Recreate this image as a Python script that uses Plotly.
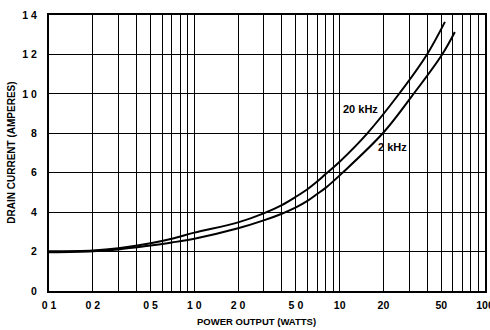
import plotly.graph_objects as go

# 20 kHz curve
x_20khz = [0.1, 0.2, 0.3, 0.5, 0.7, 1.0, 2.0, 3.0, 4.0, 5.0, 6.0, 7.0, 8.0, 10.0, 15.5, 25.2, 39.9, 53]
y_20khz = [2.02, 2.06, 2.17, 2.42, 2.65, 2.96, 3.48, 3.94, 4.36, 4.78, 5.16, 5.55, 5.93, 6.56, 8.0, 9.93, 12.0, 13.65]

# 2 kHz curve
x_2khz = [0.1, 0.2, 0.3, 0.5, 0.7, 1.0, 2.0, 3.0, 4.0, 5.0, 6.0, 7.0, 8.0, 10.4, 19.8, 31.5, 50.7, 62]
y_2khz = [1.97, 2.02, 2.11, 2.31, 2.46, 2.65, 3.18, 3.58, 3.92, 4.24, 4.57, 4.92, 5.23, 5.98, 8.0, 9.9, 12.0, 13.14]

x_labels = {0.1: "0 1", 0.2: "0 2", 0.5: "0 5", 1: "1 0", 2: "2 0", 5: "5 0",
            10: "10", 20: "20", 50: "50", 100: "100"}
y_ticks = [0, 2, 4, 6, 8, 10, 12, 14]
y_ticktext = ["0", "2", "4", "6", "8", "1 0", "1 2", "1 4"]

x_grid = []
for dec in [0.1, 1, 10]:
    for m in range(1, 10):
        x_grid.append(round(m * dec, 6))
x_grid.append(100)
x_ticktext = []
for v in x_grid:
    key = None
    for k in x_labels:
        if abs(k - v) < 1e-9:
            key = k
    x_ticktext.append(x_labels[key] if key is not None else "")

FONT = "Liberation Sans, Arial, Helvetica, sans-serif"

fig = go.Figure()
fig.add_trace(go.Scatter(x=x_20khz, y=y_20khz, mode="lines",
                         line=dict(color="black", width=2, shape="spline", smoothing=1.0),
                         showlegend=False))
fig.add_trace(go.Scatter(x=x_2khz, y=y_2khz, mode="lines",
                         line=dict(color="black", width=2, shape="spline", smoothing=1.0),
                         showlegend=False))

fig.add_annotation(x=1.278, y=9.25, xref="x", yref="y", text="20 kHz", showarrow=False,
                   xanchor="right", yanchor="middle",
                   font=dict(family=FONT, size=11, color="black", weight="bold"))
fig.add_annotation(x=1.25, y=7.3, xref="x", yref="y", text="2 kHz", showarrow=False,
                   xanchor="left", yanchor="middle",
                   font=dict(family=FONT, size=11, color="black", weight="bold"))

fig.add_annotation(x=0.475, y=-0.112, xref="paper", yref="paper", text="POWER OUTPUT (WATTS)",
                   showarrow=False, xanchor="center", yanchor="middle",
                   font=dict(family=FONT, size=9.5, color="black", weight="bold"))
fig.add_annotation(x=-0.088, y=0.5, xref="paper", yref="paper", text="DRAIN CURRENT (AMPERES)",
                   showarrow=False, xanchor="center", yanchor="middle", textangle=-90,
                   font=dict(family=FONT, size=10, color="black", weight="bold"))

fig.update_xaxes(type="log", range=[-1, 2], tickmode="array", tickvals=x_grid, ticktext=x_ticktext,
                 showgrid=True, gridcolor="black", gridwidth=1,
                 showline=True, linecolor="black", linewidth=2, mirror=True,
                 ticks="", ticklabelstandoff=3, ticklabeloverflow="allow", automargin=False,
                 tickfont=dict(family=FONT, size=10.5, color="black", weight="bold"),
                 zeroline=False)
fig.update_yaxes(range=[0, 14], tickmode="array", tickvals=y_ticks, ticktext=y_ticktext,
                 showgrid=True, gridcolor="black", gridwidth=1,
                 showline=True, linecolor="black", linewidth=2, mirror=True,
                 ticks="", ticklabelstandoff=8, automargin=False,
                 tickfont=dict(family=FONT, size=10.5, color="black", weight="bold"),
                 zeroline=False)

fig.update_layout(width=490, height=330, margin=dict(l=49, r=5, t=15, b=39),
                  plot_bgcolor="white", paper_bgcolor="white")

fig.write_html("out.html")
